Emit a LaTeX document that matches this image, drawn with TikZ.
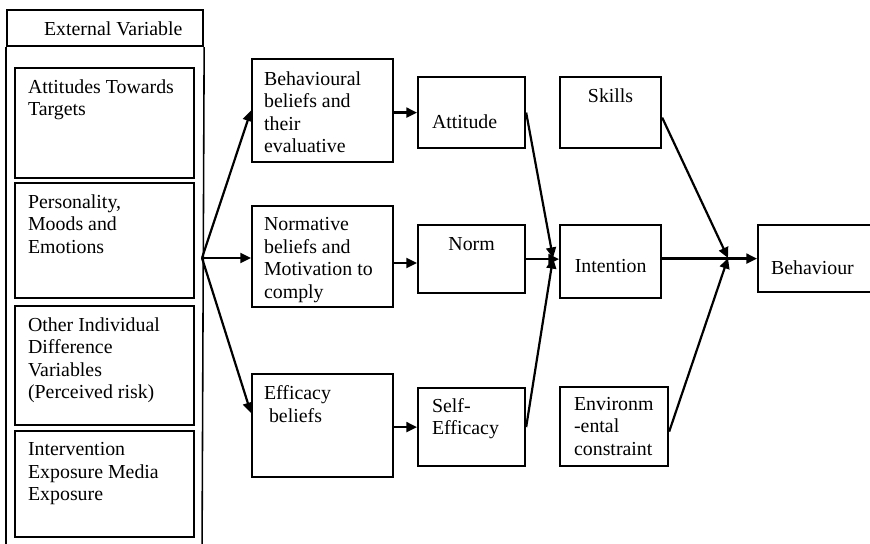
\documentclass[tikz,border=0pt]{standalone}
\usepackage{fontspec}
\setmainfont{Liberation Serif}
\usetikzlibrary{arrows.meta}

\begin{document}
\begin{tikzpicture}[x=0.02cm, y=-0.02cm, line width=1.25pt,
  >={Triangle[length=6pt,width=5.6pt]}, font=\fontsize{11.3}{12.8}\selectfont]
\tikzstyle{bx}=[draw=black, anchor=north west, inner sep=0pt]
\tikzstyle{tl}=[anchor=north west, align=left, inner xsep=0.26cm, inner ysep=0.23cm]
\tikzstyle{tc}=[anchor=north, align=center, inner xsep=0pt, inner ysep=0.23cm]
\clip (0,0) rectangle (870,544);
% external variables
\node[bx, minimum width=3.92cm, minimum height=0.72cm, label={[tl, inner xsep=0.74cm, inner ysep=0.24cm]north west:External Variable}] (extvar) at (6,9) {};
\node[bx, minimum width=3.58cm, minimum height=2.20cm, label={[tl]north west:Attitudes Towards\\Targets}]                 (ext1) at (14,67)  {};
\node[bx, minimum width=3.58cm, minimum height=2.30cm, label={[tl]north west:Personality,\\Moods and\\Emotions}]         (ext2) at (14,182) {};
\node[bx, minimum width=3.58cm, minimum height=2.38cm, label={[tl]north west:Other Individual\\Difference\\Variables\\(Perceived risk)}] (ext3) at (14,305) {};
\node[bx, minimum width=3.58cm, minimum height=2.12cm, label={[tl]north west:Intervention\\Exposure Media\\Exposure}] (ext4) at (14,430) {};
\coordinate (fl) at (6,560);
\coordinate (fr) at (202,560);
\coordinate (br) at (202,258);
\draw[line width=0.9pt] (extvar.south west) -- (fl);
\draw[line width=0.9pt] (extvar.south east) -- (fr);
% beliefs
\node[bx, minimum width=2.82cm, minimum height=2.06cm, label={[tl, inner xsep=0.24cm, inner ysep=0.25cm]north west:Behavioural\\beliefs and\\their\\evaluative}] (beh) at (251,58)  {};
\node[bx, minimum width=2.82cm, minimum height=2.02cm, label={[tl, inner xsep=0.24cm]north west:Normative\\beliefs and\\Motivation to\\comply}] (nb)  at (251,205) {};
\node[bx, minimum width=2.82cm, minimum height=2.06cm, label={[tl, inner xsep=0.24cm]north west:Efficacy\\\ beliefs}] (eff) at (251,373) {};
% attitude, norm, self-efficacy
\node[bx, minimum width=2.14cm, minimum height=1.42cm, label={[tl, inner xsep=0.28cm, inner ysep=0.76cm]north west:Attitude}]     (att)  at (417,76)  {};
\node[bx, minimum width=2.14cm, minimum height=1.36cm, label={[tc, inner ysep=0.25cm]north:Norm}]                            (norm) at (417,224) {};
\node[bx, minimum width=2.14cm, minimum height=1.56cm, label={[tl, inner xsep=0.28cm, inner ysep=0.2cm]north west:Self-\\Efficacy}] (self) at (417,387) {};
% skills, intention, constraint
\node[bx, minimum width=2.02cm, minimum height=1.42cm, label={[tc]north:Skills}]                                               (skills) at (559,76)  {};
\node[bx, minimum width=2.02cm, minimum height=1.46cm, label={[tc, inner ysep=0.69cm]north:Intention}]                          (int)    at (559,224) {};
\node[bx, minimum width=2.16cm, minimum height=1.58cm, label={[tl, inner xsep=0.28cm, inner ysep=0.2cm]north west:Environm\\-ental\\constraint}] (env) at (559,386) {};
\node[bx, minimum width=2.46cm, minimum height=1.34cm, label={[tl, inner xsep=0.26cm, inner ysep=0.71cm]north west:Behaviour}]  (behav)  at (757,224) {};
% arrows
\coordinate (ci) at (553,258);
\coordinate (cb) at (728,258);
\draw[->] (br) -- (beh.west);
\draw[->] (br) -- (br -| nb.west);
\draw[->] (br) -- ([yshift=0.25cm]eff.west);
\draw[->] (beh.east |- att.west) -- (att.west);
\draw[->] (nb.east |- 0,263) -- (norm.west |- 0,263);
\draw[->] (eff.east |- self.west) -- (self.west);
\draw[->] (att.east) -- (ci);
\draw[->] (norm.east) -- (norm.east -| int.west);
\draw[->] (self.east) -- (ci);
\draw[->] (int.east |- behav.west) -- (behav.west);
\draw[->] ([yshift=-0.1cm]skills.east) -- (cb);
\draw[->] ([yshift=-0.1cm]env.east) -- (cb);
\end{tikzpicture}
\end{document}
